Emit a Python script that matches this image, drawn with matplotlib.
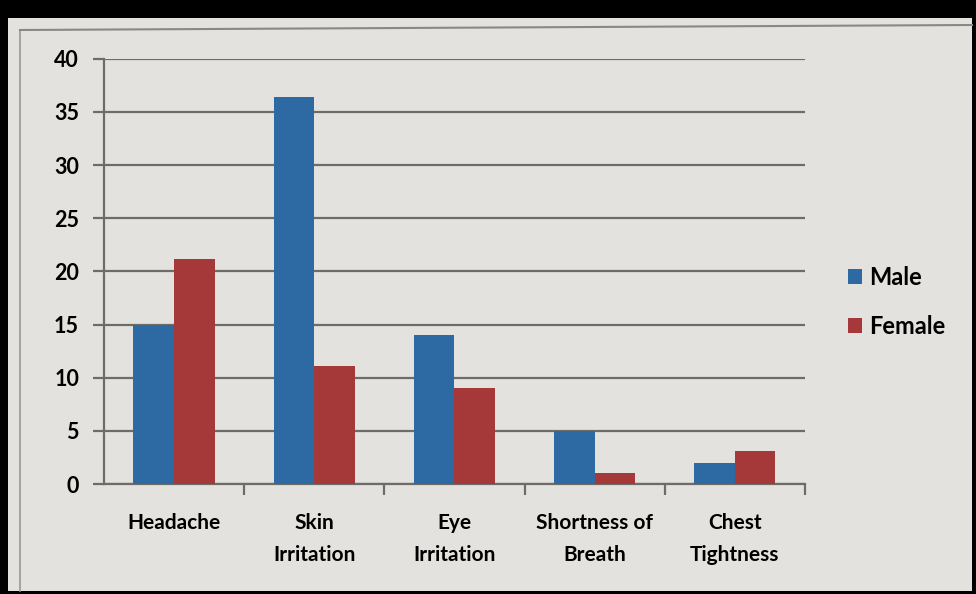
import matplotlib.pyplot as plt
import numpy as np
from matplotlib.patches import Rectangle

# data
symptoms = ["Headache", "Skin\nIrritation", "Eye\nIrritation", "Shortness of\nBreath", "Chest\nTightness"]
male = [15, 36.4, 14, 5, 2]
female = [21.2, 11.1, 9, 1, 3.1]
y_ticks = [0, 5, 10, 15, 20, 25, 30, 35, 40]

paper = "#e4e2de"
blue = "#2d69a3"
red = "#a53838"
grid_col = "#6e6c68"

plt.rcParams['font.family'] = ['Lato', 'DejaVu Sans']
plt.rcParams['font.weight'] = 'bold'

fig = plt.figure(figsize=(9.76, 5.94), dpi=100)
fig.patch.set_facecolor("black")

# photo frame: paper inside a black border
fig.patches.append(Rectangle((8/976, 3/594), 964/976, 573/594, transform=fig.transFigure,
                             facecolor=paper, edgecolor="none", zorder=-2))
# faint outer border of the printed chart
fig.lines.append(plt.Line2D([20/976, 20/976], [3/594, 564/594], transform=fig.transFigure,
                            color="#9a9894", lw=1.2, zorder=-1))
fig.lines.append(plt.Line2D([20/976, 972/976], [564/594, 569/594], transform=fig.transFigure,
                            color="#8a8884", lw=1.5, zorder=-1))

ax = fig.add_axes([0.1066, 0.185, 0.718, 0.716])
ax.set_facecolor("none")

x = np.arange(len(symptoms))
w = 0.29
ax.bar(x - w/2, male, w, color=blue, label="Male", zorder=3)
ax.bar(x + w/2, female, w, color=red, label="Female", zorder=3)

ax.set_ylim(0, 40)
ax.set_xlim(-0.5, len(symptoms) - 0.5)
ax.set_yticks(y_ticks)
ax.yaxis.grid(True, color=grid_col, lw=1.6, zorder=0)
ax.tick_params(axis="y", length=8, width=1.6, color=grid_col, labelsize=15.5, pad=10)

ax.set_xticks(x)
ax.set_xticklabels(symptoms, fontsize=15, linespacing=1.75)
ax.set_xticks(np.arange(0.5, len(symptoms) - 0.5 + 1, 1), minor=True)
ax.tick_params(axis="x", which="major", length=0, pad=21)
ax.tick_params(axis="x", which="minor", length=8, width=1.6, color=grid_col)

for s in ["top", "right"]:
    ax.spines[s].set_visible(False)
for s in ["left", "bottom"]:
    ax.spines[s].set_color(grid_col)
    ax.spines[s].set_linewidth(1.6)

fig.legend(loc="center left", bbox_to_anchor=(0.857, 0.492), frameon=False, fontsize=17,
           borderpad=0, handlelength=0.6, handleheight=0.6, handletextpad=0.3, labelspacing=1.1)

fig.savefig("out.png", dpi=100, facecolor=fig.get_facecolor())
